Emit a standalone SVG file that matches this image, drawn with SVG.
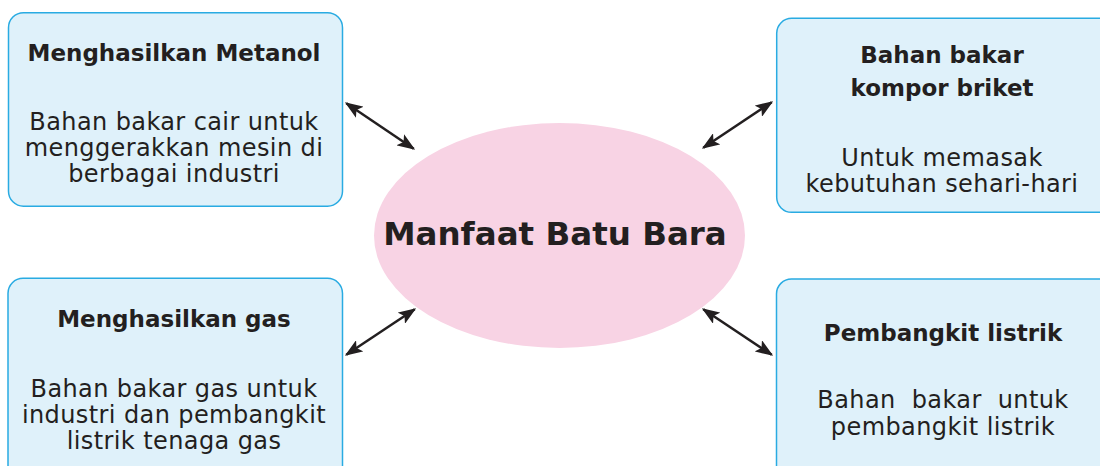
<svg xmlns="http://www.w3.org/2000/svg" width="1100" height="466" viewBox="0 0 1100 466">
<defs>
<style>
.box{fill:#dff1fa;stroke:#29abe2;stroke-width:1.5}
.h{font-family:"DejaVu Sans","Liberation Sans",sans-serif;font-weight:700;font-size:23px;fill:#231f20;text-anchor:middle}
.b{font-family:"DejaVu Sans","Liberation Sans",sans-serif;font-weight:400;font-size:24px;letter-spacing:0.4px;fill:#231f20;text-anchor:middle}
.t{font-family:"DejaVu Sans","Liberation Sans",sans-serif;font-weight:700;font-size:32.5px;fill:#231f20;text-anchor:middle}
.c{stroke:#231f20;stroke-width:2.5;fill:none;marker-start:url(#ah);marker-end:url(#ah)}
</style>
<marker id="ah" viewBox="0 0 16 12" refX="14.4" refY="6" markerWidth="7.2" markerHeight="5.4" orient="auto-start-reverse" markerUnits="strokeWidth">
<path d="M0,0 L16,6 L0,12 L3.5,6 Z" fill="#231f20"/>
</marker>
</defs>
<rect width="1100" height="466" fill="#ffffff"/>
<g id="center">
<ellipse cx="559.5" cy="235.5" rx="185.5" ry="112.5" fill="#f8d3e4"/>
<text class="t" x="555" y="245">Manfaat Batu Bara</text>
</g>
<g id="metanol">
<rect class="box" x="8.5" y="12.7" width="334" height="193.5" rx="15"/>
<text class="h" x="174" y="61">Menghasilkan Metanol</text>
<text class="b" x="174" y="130">Bahan bakar cair untuk</text>
<text class="b" x="174" y="156">menggerakkan mesin di</text>
<text class="b" x="174" y="182">berbagai industri</text>
</g>
<g id="kompor">
<rect class="box" x="776.7" y="18.3" width="340" height="194" rx="15"/>
<text class="h" x="942" y="63">Bahan bakar</text>
<text class="h" x="942" y="96">kompor briket</text>
<text class="b" x="942" y="166">Untuk memasak</text>
<text class="b" x="942" y="192">kebutuhan sehari-hari</text>
</g>
<g id="gas">
<rect class="box" x="8" y="278.3" width="334.5" height="210" rx="15"/>
<text class="h" x="174" y="327">Menghasilkan gas</text>
<text class="b" x="174" y="397">Bahan bakar gas untuk</text>
<text class="b" x="174" y="422.5">industri dan pembangkit</text>
<text class="b" x="174" y="448.5">listrik tenaga gas</text>
</g>
<g id="listrik">
<rect class="box" x="776.5" y="279" width="340" height="210" rx="15"/>
<text class="h" x="943" y="341">Pembangkit listrik</text>
<text class="b" x="943" y="408" xml:space="preserve">Bahan  bakar  untuk</text>
<text class="b" x="943" y="435">pembangkit listrik</text>
</g>
<g id="connectors">
<line class="c" x1="346.3" y1="103.2" x2="413.7" y2="148.8"/>
<line class="c" x1="703.3" y1="147.8" x2="771.7" y2="102.2"/>
<line class="c" x1="346.3" y1="354.8" x2="414.7" y2="309.2"/>
<line class="c" x1="703.3" y1="309.2" x2="771.7" y2="354.8"/>
</g>
</svg>
